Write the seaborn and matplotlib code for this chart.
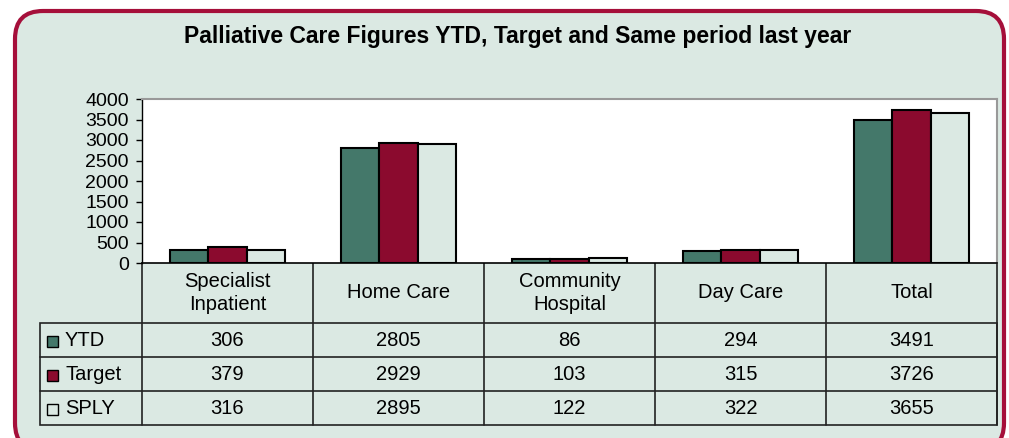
import matplotlib
matplotlib.use("Agg")
import matplotlib.pyplot as plt
import seaborn as sns
import pandas as pd
from matplotlib.patches import FancyBboxPatch, Rectangle

# data
categories = ["Specialist\nInpatient", "Home Care", "Community\nHospital", "Day Care", "Total"]
series = ["YTD", "Target", "SPLY"]
ytd = [306, 2805, 86, 294, 3491]
target = [379, 2929, 103, 315, 3726]
sply = [316, 2895, 122, 322, 3655]
yticks = [0, 500, 1000, 1500, 2000, 2500, 3000, 3500, 4000]

colors = {"YTD": "#44786A", "Target": "#8B0A2E", "SPLY": "#DBE9E3"}
bg = "#DBE9E3"
border = "#A50F3A"

df = pd.DataFrame({
    "category": categories * 3,
    "series": ["YTD"] * 5 + ["Target"] * 5 + ["SPLY"] * 5,
    "value": ytd + target + sply,
})

sns.set_style("white")
plt.rcParams["font.family"] = ["Liberation Sans", "DejaVu Sans"]
plt.rcParams["text.color"] = "black"
plt.rcParams["ytick.color"] = "black"

W, H = 1009, 438
fig = plt.figure(figsize=(W / 100, H / 100), dpi=100)
fig.patch.set_facecolor("white")

# overlay axes in pixel coordinates for frame and table
ov = fig.add_axes([0, 0, 1, 1])
ov.set_xlim(0, W)
ov.set_ylim(H, 0)
ov.axis("off")
ov.add_patch(FancyBboxPatch((15, 11), 989, 440, boxstyle="round,pad=0,rounding_size=28",
                            facecolor=bg, edgecolor=border, linewidth=3))

# chart area
x0, x1, y0, y1 = 142, 997, 99, 263
ax = fig.add_axes([x0 / W, 1 - y1 / H, (x1 - x0) / W, (y1 - y0) / H])
sns.barplot(data=df, x="category", y="value", hue="series", hue_order=series,
            palette=colors, saturation=1, width=0.67, edgecolor="black", linewidth=1.5,
            legend=False, ax=ax, zorder=3)
ax.set_facecolor("white")
ax.set_ylim(0, 4000)
ax.set_xlim(-0.5, 4.5)
ax.set_yticks(yticks)
ax.set_yticklabels([str(t) for t in yticks], fontsize=14)
ax.set_xticks([])
ax.set_xlabel("")
ax.set_ylabel("")
ax.tick_params(axis="y", direction="out", length=4.5, width=1, color="black", pad=5, left=True)
for s in ["top", "right"]:
    ax.spines[s].set_color("#999999")
    ax.spines[s].set_linewidth(1.5)
ax.spines["left"].set_color("black")
ax.spines["bottom"].set_color("black")
ax.spines["left"].set_linewidth(1)
ax.spines["bottom"].set_linewidth(1.2)

fig.text(518 / W, 1 - 36 / H, "Palliative Care Figures YTD, Target and Same period last year",
         ha="center", va="center", fontsize=16.5, fontweight="bold")

# data table under the chart
col_w = (x1 - x0) / 5
row_y = [263, 323, 357, 391, 425]
lx = 40
lc = "#222222"
ov.add_patch(Rectangle((lx, row_y[1]), x1 - lx, row_y[-1] - row_y[1], fill=False,
                       edgecolor=lc, linewidth=1.2, zorder=4))
ov.plot([x0, x0], [row_y[0], row_y[-1]], color=lc, lw=1.2, zorder=4)
ov.plot([x1, x1], [row_y[0], row_y[-1]], color=lc, lw=1.2, zorder=4)
for i in range(1, 5):
    xv = x0 + i * col_w
    ov.plot([xv, xv], [row_y[0], row_y[-1]], color=lc, lw=1.2, zorder=4)
for yv in row_y[2:4]:
    ov.plot([lx, x1], [yv, yv], color=lc, lw=1.2, zorder=4)

for i, cat in enumerate(categories):
    cx = x0 + (i + 0.5) * col_w
    ov.text(cx, (row_y[0] + row_y[1]) / 2, cat, ha="center", va="center",
            fontsize=14.5, linespacing=1.25)
    for r, vals in enumerate([ytd, target, sply]):
        ov.text(cx, (row_y[r + 1] + row_y[r + 2]) / 2 + 1, str(vals[i]),
                ha="center", va="center", fontsize=14.5)

for r, name in enumerate(series):
    cy = (row_y[r + 1] + row_y[r + 2]) / 2 + 1
    ov.add_patch(Rectangle((47, cy - 5), 11, 11, facecolor=colors[name],
                           edgecolor="black", linewidth=1, zorder=5))
    ov.text(65, cy, name, ha="left", va="center", fontsize=14.5)

fig.savefig("out.png", dpi=100, facecolor="white")
